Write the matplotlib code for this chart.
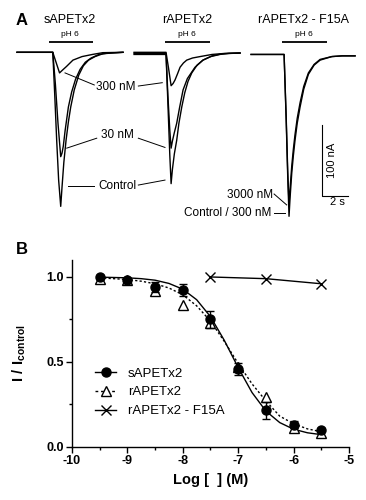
import matplotlib
matplotlib.use("Agg")
import matplotlib.pyplot as plt
from matplotlib.lines import Line2D

plt.rcParams['font.family'] = ['Liberation Sans', 'DejaVu Sans']
plt.rcParams['axes.unicode_minus'] = False
plt.rcParams['mathtext.fontset'] = 'custom'
plt.rcParams['mathtext.rm'] = 'Liberation Sans'
plt.rcParams['mathtext.bf'] = 'Liberation Sans:bold'

# ---- panel A: current traces (time in s, current in nA) ----
group_titles = ['sAPETx2', 'rAPETx2', 'rAPETx2 - F15A']
group_start = [1.31, 10.31, 19.31]

# sAPETx2
g1_ctrl_t = [0, 2.75, 2.9, 3.05, 3.2, 3.36, 3.46, 3.6, 3.77, 3.95, 4.13, 4.4, 4.75, 5.1, 5.5, 6.0, 6.6, 7.3, 8.15]
g1_ctrl_i = [0, 0, -60, -124, -180, -217, -190, -155, -124, -98, -77, -53, -32, -19, -11, -6, -2, -1, 0]
g1_30_t = [0, 2.75, 2.95, 3.15, 3.36, 3.46, 3.56, 3.7, 3.95, 4.2, 4.5, 4.85, 5.25, 5.7, 6.3, 7.0, 8.15]
g1_30_i = [0, 0, -45, -100, -147, -142, -132, -110, -77, -56, -38, -24, -14, -8, -3, -1, 0]
g1_300_t = [0, 2.75, 3.0, 3.27, 3.5, 3.8, 4.3, 5.0, 5.8, 6.6, 8.15]
g1_300_i = [0, 0, -14, -29, -25, -20, -11, -6, -3, -0.5, 0]

# rAPETx2
g2_ctrl_t = [0, 2.46, 2.6, 2.75, 2.85, 2.95, 3.1, 3.28, 3.45, 3.67, 3.9, 4.15, 4.44, 4.85, 5.3, 5.9, 6.6, 7.3, 8.15]
g2_ctrl_i = [-3, -3, -70, -145, -185, -165, -143, -124, -100, -77, -57, -41, -29, -18, -11, -6, -3, -1.5, -1]
g2_30_t = [0, 2.46, 2.6, 2.75, 2.85, 2.95, 3.1, 3.28, 3.5, 3.77, 4.1, 4.69, 5.3, 6.0, 6.8, 8.15]
g2_30_i = [-1.5, -1.5, -60, -110, -135, -125, -113, -100, -78, -53, -37, -21, -11, -5, -2, -1]
g2_300_t = [0, 2.46, 2.65, 2.85, 3.0, 3.15, 3.35, 3.54, 3.8, 4.05, 4.5, 5.08, 6.0, 7.0, 8.15]
g2_300_i = [0, 0, -22, -47, -44, -39, -30, -21, -15, -11, -8, -6, -3, -1.5, -1]

# rAPETx2 - F15A
g3_t = [0, 2.54, 2.7, 2.82, 2.92, 3.0, 3.13, 3.25, 3.38, 3.55, 3.77, 4.05, 4.41, 4.85, 5.31, 6.21, 7.0, 8.0]
g3_ctrl_i = [-3, -3, -95, -175, -231, -205, -170, -146, -124, -100, -77, -52, -31, -18, -11, -6, -5, -5]
g3_3000_i = [-3, -3, -90, -168, -215, -192, -160, -137, -116, -93, -71, -48, -29, -17, -10, -6, -5, -5]

ph_on = [2.46, 2.38, 2.38]
ph_off = [5.85, 5.85, 5.85]

# ---- panel B: concentration response ----
log_conc = [-9.5, -9, -8.5, -8, -7.5, -7, -6.5, -6, -5.5]
s_resp = [1.0, 0.985, 0.94, 0.925, 0.75, 0.46, 0.215, 0.13, 0.10]
s_err = [0.01, 0.01, 0.03, 0.035, 0.05, 0.035, 0.05, 0.02, 0.01]
r_resp = [0.99, 0.98, 0.92, 0.835, 0.73, 0.47, 0.29, 0.11, 0.08]
f15a_conc = [-7.5, -6.5, -5.5]
f15a_resp = [1.0, 0.99, 0.96]

fit_x = [-9.5, -9.25, -9, -8.75, -8.5, -8.25, -8, -7.75, -7.5, -7.25, -7, -6.75, -6.5, -6.25, -6, -5.75, -5.5]
s_fit = [0.999, 0.997, 0.995, 0.99, 0.981, 0.962, 0.928, 0.866, 0.766, 0.626, 0.466, 0.319, 0.21, 0.142, 0.103, 0.082, 0.071]
r_fit = [0.995, 0.99, 0.985, 0.975, 0.96, 0.935, 0.895, 0.83, 0.74, 0.62, 0.49, 0.37, 0.27, 0.18, 0.135, 0.105, 0.088]


fig = plt.figure(figsize=(3.66, 5.0), dpi=100)

ax_a = fig.add_axes([0, 0.52, 1, 0.48])
ax_a.set_xlim(0, 28.15)
ax_a.set_ylim(-264.4, 73.7)
ax_a.axis('off')

traces = [
    [(g1_300_t, g1_300_i), (g1_30_t, g1_30_i), (g1_ctrl_t, g1_ctrl_i)],
    [(g2_300_t, g2_300_i), (g2_30_t, g2_30_i), (g2_ctrl_t, g2_ctrl_i)],
    [(g3_t, g3_3000_i), (g3_t, g3_ctrl_i)],
]
for k in range(3):
    t0 = group_start[k]
    for tt, ii in traces[k]:
        ax_a.plot([t0 + v for v in tt], ii, color='black', lw=1.0)
    ax_a.plot([t0 + ph_on[k], t0 + ph_off[k]], [14.5, 14.5], color='black', lw=1.3, solid_capstyle='butt')
    ax_a.text(t0 + 4.1, 24.5, 'pH 6', fontsize=6, ha='center', va='center')
    ax_a.text(t0 + 4.07, 45.5, group_titles[k], fontsize=9, ha='center', va='center')

ax_a.text(1.69, 45.5, 'A', fontsize=12, fontweight='bold', ha='center', va='center')

# labels with leader lines
def label(txt, xy_text, lines, ha='center'):
    ax_a.text(xy_text[0], xy_text[1], txt, fontsize=8.5, ha=ha, va='center')
    for (x0, y0), (x1, y1) in lines:
        ax_a.plot([x0, x1], [y0, y1], color='black', lw=0.7)

label('300 nM', (8.92, -48.5), [((7.25, -46), (5.0, -29)), ((10.64, -47.5), (12.48, -42.8))])
label('30 nM', (9.04, -116.5), [((7.44, -121), (5.13, -135)), ((10.64, -121), (12.69, -134))])
label('Control', (9.0, -188), [((7.25, -188), (5.25, -188)), ((10.64, -187), (12.69, -180))])
label('3000 nM', (20.98, -201), [((21.08, -199.6), (22.05, -215))], ha='right')
label('Control / 300 nM', (20.9, -227), [((21.08, -226.8), (21.92, -226.8))], ha='right')

# scale bar: 100 nA / 2 s
ax_a.plot([24.79, 24.79, 26.79], [-102.5, -202.5, -202.5], color='black', lw=0.8)
ax_a.text(25.54, -151.7, '100 nA', fontsize=8, rotation=90, ha='center', va='center')
ax_a.text(25.92, -210.5, '2 s', fontsize=8, ha='center', va='center')

# ---- panel B ----
ax_b = fig.add_axes([72 / 366, 1 - 446.7 / 500, 277 / 366, (446.7 - 260) / 500])
fig.text(22 / 366, 1 - 250 / 500, 'B', fontsize=12, fontweight='bold', ha='center', va='center')

dash = (0, (1.6, 1.6))
ax_b.plot(fit_x, r_fit, color='black', lw=1.0, linestyle=dash, zorder=2)
ax_b.plot(fit_x, s_fit, color='black', lw=1.0, zorder=2)
ax_b.plot(f15a_conc, f15a_resp, color='black', lw=1.0, marker='x', ms=7, mew=1.0, zorder=3)
ax_b.plot(log_conc, r_resp, linestyle='none', marker='^', ms=6.5, mfc='white', mec='black', mew=1.0, zorder=3)
ax_b.errorbar(log_conc, s_resp, yerr=s_err, fmt='o', color='black', ms=6.5, capsize=3,
              elinewidth=1.0, capthick=1.0, zorder=4)

ax_b.set_xlim(-10, -5)
ax_b.set_ylim(0, 1.1)
ax_b.set_xticks([-10, -9, -8, -7, -6, -5])
ax_b.set_xticks([-9.5, -8.5, -7.5, -6.5, -5.5], minor=True)
ax_b.set_yticks([0.0, 0.5, 1.0])
ax_b.set_yticks([0.25, 0.75], minor=True)
ax_b.set_yticklabels(['0.0', '0.5', '1.0'])
for lab in ax_b.get_xticklabels() + ax_b.get_yticklabels():
    lab.set_fontweight('bold')
    lab.set_fontsize(9)
ax_b.tick_params(which='major', length=4, width=1.0, pad=2)
ax_b.tick_params(which='minor', length=2.5, width=1.0)
for side in ['top', 'right']:
    ax_b.spines[side].set_visible(False)
for side in ['left', 'bottom']:
    ax_b.spines[side].set_linewidth(1.0)

ax_b.set_xlabel('Log [  ] (M)', fontsize=10.5, fontweight='bold')
ax_b.xaxis.set_label_coords(0.5, -0.14)
ax_b.set_ylabel(r'$\mathbf{I\ /\ I_{control}}$', fontsize=10.5)
ax_b.yaxis.set_label_coords(-0.16, 0.5)

handles = [
    Line2D([], [], color='black', lw=1.0, marker='o', ms=6.5),
    Line2D([], [], color='black', lw=1.0, linestyle=(0, (2, 2)), marker='^', ms=6.5, mfc='white'),
    Line2D([], [], color='black', lw=1.0, marker='x', ms=7),
]
ax_b.legend(handles, ['sAPETx2', 'rAPETx2', 'rAPETx2 - F15A'], loc='upper left',
            bbox_to_anchor=(23 / 277, 0.425), frameon=False, fontsize=9.5,
            handlelength=1.6, handletextpad=0.9, labelspacing=0.5,
            borderpad=0, borderaxespad=0)

fig.savefig('out.png', dpi=100)
